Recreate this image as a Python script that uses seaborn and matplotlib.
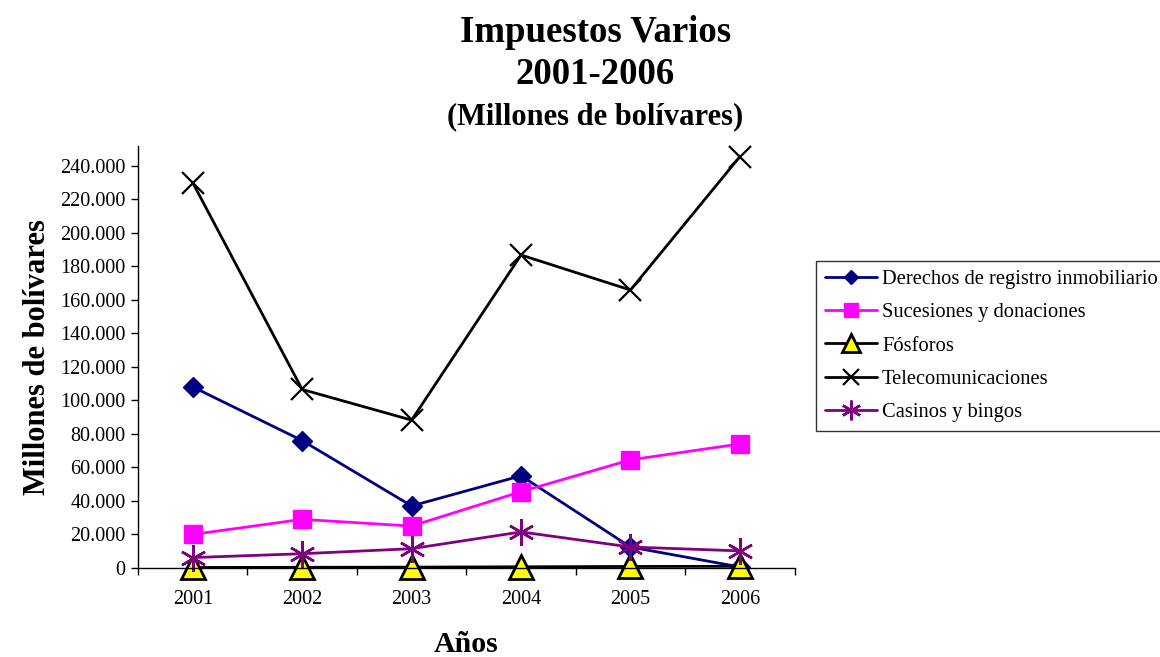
import numpy as np
import pandas as pd
import matplotlib
matplotlib.use('Agg')
import matplotlib.pyplot as plt
import seaborn as sns
from matplotlib.ticker import FuncFormatter

years = ['2001', '2002', '2003', '2004', '2005', '2006']
derechos = [108000, 76000, 37000, 55000, 12500, 600]
sucesiones = [20000, 29000, 25000, 45500, 64500, 74000]
fosforos = [300, 400, 500, 700, 900, 1000]
telecom = [229800, 106500, 88200, 186700, 165800, 245400]
casinos = [6200, 8500, 11500, 21500, 12500, 10200]

series = [
    ('Derechos de registro inmobiliario', derechos,
     dict(color='#000080', marker='D', markersize=10, mfc='#000080', mec='#000080', mew=1)),
    ('Sucesiones y donaciones', sucesiones,
     dict(color='#FF00FF', marker='s', markersize=13, mfc='#FF00FF', mec='#FF00FF', mew=1)),
    ('Fósforos', fosforos,
     dict(color='black', marker='^', markersize=17, mfc='#FFFF00', mec='black', mew=2)),
    ('Telecomunicaciones', telecom,
     dict(color='black', marker='x', markersize=16, mec='black', mew=1.6)),
    ('Casinos y bingos', casinos,
     dict(color='#800080', marker=(6, 2, 0), markersize=19, mew=1.8, mec='#800080')),
]

sns.set_style('white')
plt.rcParams['font.family'] = ['Liberation Serif', 'DejaVu Serif']
plt.rcParams['text.color'] = 'black'
plt.rcParams['axes.labelcolor'] = 'black'
plt.rcParams['xtick.color'] = 'black'
plt.rcParams['ytick.color'] = 'black'

fig = plt.figure(figsize=(11.6, 6.57), dpi=100)
ax = fig.add_axes([0.119, 0.1355, 0.566, 0.643])

for name, vals, kw in series:
    df = pd.DataFrame({'year': years, 'value': vals})
    sns.lineplot(data=df, x='year', y='value', ax=ax, label=name,
                 linewidth=2, clip_on=False, **kw)

ax.set_xlim(-0.5, 5.5)
ax.set_ylim(0, 252000)
ax.set_yticks(np.arange(0, 240001, 20000))
ax.yaxis.set_major_formatter(FuncFormatter(lambda v, p: '{:,.0f}'.format(v).replace(',', '.')))
ax.set_xticks(range(len(years)))
ax.set_xticklabels(years)
ax.set_xticks(np.arange(-0.5, 6, 1), minor=True)
ax.tick_params(axis='x', which='major', length=0, pad=16, labelsize=14.5)
ax.tick_params(axis='x', which='minor', length=5, width=1, direction='out', bottom=True)
ax.tick_params(axis='y', length=5, width=1, direction='out', left=True, labelsize=14.5, pad=4)
for s in ['top', 'right']:
    ax.spines[s].set_visible(False)
for s in ['left', 'bottom']:
    ax.spines[s].set_color('black')
    ax.spines[s].set_linewidth(1)
ax.grid(False)

ax.set_xlabel('Años', fontsize=21.5, fontweight='bold', labelpad=16)
ax.set_ylabel('Millones de bolívares', fontsize=22, fontweight='bold', labelpad=6)

fig.text(0.513, 0.950, 'Impuestos Varios', ha='center', va='center', fontsize=26.5, fontweight='bold')
fig.text(0.513, 0.886, '2001-2006', ha='center', va='center', fontsize=26.5, fontweight='bold')
fig.text(0.513, 0.823, '(Millones de bolívares)', ha='center', va='center', fontsize=22, fontweight='bold')

handles, labels = ax.get_legend_handles_labels()
ax.get_legend().remove()
leg = fig.legend(handles, labels, loc='upper left', bbox_to_anchor=(0.7034, 0.603),
                 fontsize=14.8, frameon=True, fancybox=False, handlelength=2.55,
                 borderpad=0.42, labelspacing=0.68, handletextpad=0.25, borderaxespad=0,
                 markerscale=0.75)
leg.get_frame().set_edgecolor('black')
leg.get_frame().set_linewidth(1)

fig.savefig('out.png', dpi=100)
